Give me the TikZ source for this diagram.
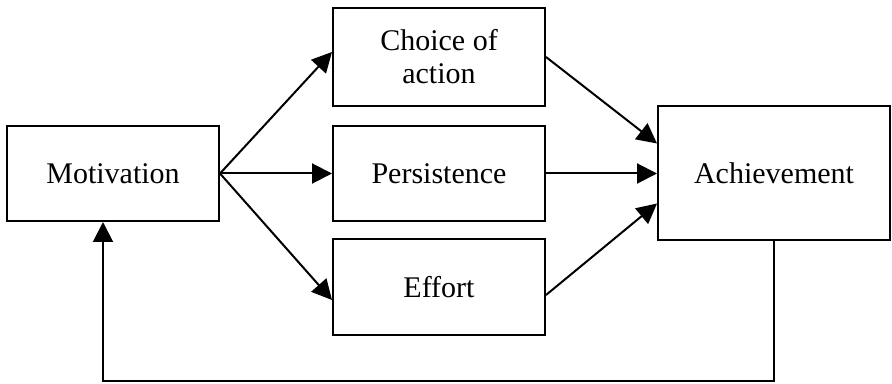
\documentclass[tikz,border=0pt]{standalone}
\usepackage{fontspec}
\setmainfont{Liberation Serif}
\usetikzlibrary{arrows.meta}
\begin{document}
\begin{tikzpicture}[x=0.5pt,y=-0.5pt,
  box/.style={draw,line width=1pt,align=center,inner sep=0pt,
    font=\fontsize{15}{16.5}\selectfont},
  flow/.style={line width=1pt,-{Triangle[length=10pt,width=10pt]}}]
\useasboundingbox (0,0) rectangle (892,384);
% boxes
\node[box,minimum width=106pt,minimum height=47.5pt] (mot) at (113,173.5) {Motivation};
\node[box,minimum width=106pt,minimum height=49pt] (choice) at (439,57) {Choice of\\action};
\node[box,minimum width=106pt,minimum height=47.5pt] (persist) at (439,173.5) {Persistence};
\node[box,minimum width=106pt,minimum height=48pt] (effort) at (439,287) {Effort};
\node[box,minimum width=116pt,minimum height=67pt] (achieve) at (774,173.5) {Achievement};
% motivation fans out
\draw[flow] (mot.east) -- ([yshift=2.5pt]choice.west);
\draw[flow] (mot.east) -- (persist.west);
\draw[flow] (mot.east) -- ([yshift=-6.5pt]effort.west);
% into achievement
\draw[flow] (choice.east) -- ([yshift=15pt]achieve.west);
\draw[flow] (persist.east) -- (achieve.west);
\draw[flow] ([yshift=-4pt]effort.east) -- ([yshift=-15pt]achieve.west);
% feedback loop
\coordinate (loop) at (774,381);
\draw[flow] (achieve.south) -- (loop) -| ([xshift=-5pt]mot.south);
\end{tikzpicture}
\end{document}
